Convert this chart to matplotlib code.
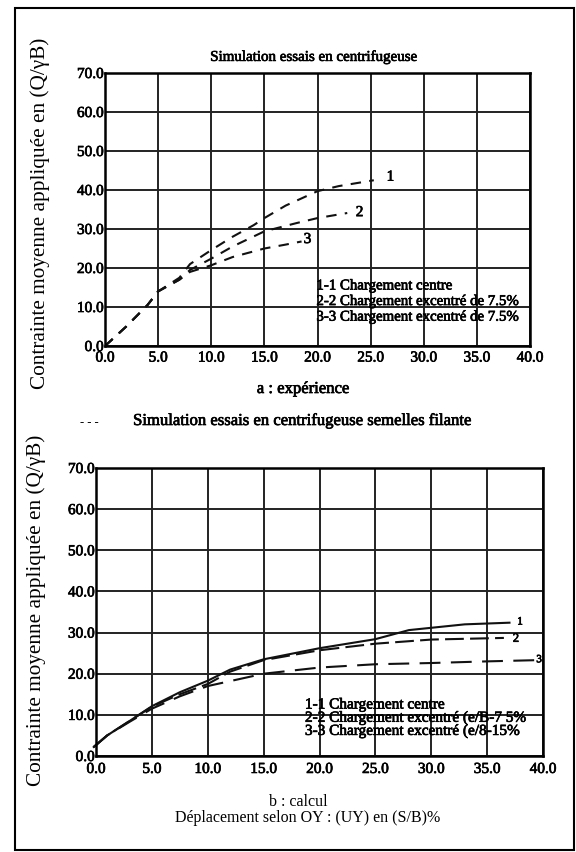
import numpy as np
import matplotlib.pyplot as plt
from matplotlib.patches import Rectangle
import matplotlib.patheffects as pe

plt.rcParams['font.family'] = ['Liberation Serif', 'DejaVu Serif']

# a : experience (centrifuge tests)
exp_x1 = [0, 2, 4, 5, 7, 8, 10, 12, 14, 15, 17, 20, 22, 25.3]
exp_y1 = [0, 5, 10.5, 14, 17.5, 21, 24.6, 28, 31, 32.8, 36, 39.7, 41, 42.5]
exp_x2 = [0, 2, 4, 5, 7, 8, 10, 12, 15, 18, 20, 22.8]
exp_y2 = [0, 5, 10.5, 14, 17, 19.5, 22.4, 25.5, 29.4, 31.5, 32.8, 34.1]
exp_x3 = [0, 2, 4, 5, 7, 8, 10, 12, 15, 17, 18.5]
exp_y3 = [0, 5, 10.5, 14, 17, 19, 20.7, 22.8, 25, 26, 26.8]

# b : calcul
calc_x1 = [-0.2, 1, 3, 5, 7.5, 10, 12, 15, 20, 25, 28, 33, 37]
calc_y1 = [2.2, 5, 8.5, 12.1, 15.5, 18.3, 21, 23.5, 26.2, 28.4, 30.6, 32, 32.4]
calc_x2 = [-0.2, 1, 3, 5, 7.5, 10, 12, 15, 20, 25, 30, 36.5]
calc_y2 = [2.2, 5, 8.5, 12, 15, 17.5, 20.5, 23.3, 25.7, 27.3, 28.3, 28.7]
calc_x3 = [-0.2, 1, 3, 5, 7.5, 10, 15, 20, 25, 30, 35, 39.5]
calc_y3 = [2.2, 5, 8.3, 11.5, 14.5, 17, 20, 21.5, 22.3, 22.6, 23, 23.3]

x_ticks = np.arange(0, 45, 5)
y_ticks = np.arange(0, 80, 10)

exp_legend = ["1-1 Chargement centre",
              "2-2 Chargement excentré de 7.5%",
              "3-3 Chargement excentré de 7.5%"]
calc_legend = ["1-1 Chargement centre",
               "2-2 Chargement excentré (e/B-7 5%",
               "3-3 Chargement excentré (e/8-15%"]

ylabel = "Contrainte moyenne appliquée en (Q/γB)"

# scanned look: slightly heavier text
ink = [pe.withStroke(linewidth=0.5, foreground='black')]

fig = plt.figure(figsize=(5.76, 8.52), dpi=100)
fig.patches.append(Rectangle((15 / 576, 0.002), 559 / 576, 1 - 8 / 852 - 0.002,
                             transform=fig.transFigure, fill=False,
                             edgecolor='black', linewidth=1.5))


def setup(ax, pad):
    ax.set_xlim(0, 40)
    ax.set_ylim(0, 70)
    ax.set_xticks(x_ticks)
    ax.set_yticks(y_ticks)
    ax.set_xticklabels(['%.1f' % v for v in x_ticks])
    ax.set_yticklabels(['%.1f' % v for v in y_ticks])
    ax.tick_params(length=0, labelsize=11)
    ax.tick_params(axis='x', pad=pad)
    ax.tick_params(axis='y', pad=1)
    for lab in ax.get_xticklabels() + ax.get_yticklabels():
        lab.set_path_effects(ink)
    ax.grid(True, color='#222222', linewidth=1.4)
    for s in ax.spines.values():
        s.set_linewidth(1.8)


# top chart
ax1 = fig.add_axes([105 / 576, 1 - 346 / 852, 425 / 576, 273 / 852])
setup(ax1, 4)
ax1.plot(exp_x1, exp_y1, color='#111111', lw=1.5, dashes=(5, 4))
ax1.plot(exp_x2, exp_y2, color='#111111', lw=1.5, dashes=(5, 4))
ax1.plot(exp_x3, exp_y3, color='#111111', lw=1.5, dashes=(5, 4))
ax1.text(26.5, 43.3, '1', fontsize=11, va='center', path_effects=ink)
ax1.text(23.6, 34.2, '2', fontsize=11, va='center', path_effects=ink)
ax1.text(18.7, 27.3, '3', fontsize=11, va='center', path_effects=ink)
for i, t in enumerate(exp_legend):
    ax1.text(19.9, 15.4 - 4 * i, t, fontsize=10.7, va='center', path_effects=ink)
fig.text(314 / 576, 1 - 57 / 852, "Simulation essais en centrifugeuse",
         fontsize=10.8, ha='center', va='center', path_effects=ink)
fig.text(303 / 576, 1 - 389 / 852, "a : expérience", fontsize=12,
         ha='center', va='center', path_effects=ink)
fig.text(40 / 576, 1 - 213 / 852, ylabel, rotation=90, fontsize=15.3,
         ha='center', va='center')

# bottom chart
ax2 = fig.add_axes([96 / 576, 1 - 756 / 852, 447 / 576, 288 / 852])
setup(ax2, 5)
ax2.plot(calc_x1, calc_y1, color='#111111', lw=1.5, clip_on=False)
ax2.plot(calc_x2, calc_y2, color='#111111', lw=1.5, dashes=(9, 3), clip_on=False)
ax2.plot(calc_x3, calc_y3, color='#111111', lw=1.5, dashes=(10, 5), clip_on=False)
ax2.text(37.7, 32.6, '1', fontsize=8, va='center', path_effects=ink)
ax2.text(37.3, 28.5, '2', fontsize=9, va='center', path_effects=ink)
ax2.text(39.4, 23.4, '3', fontsize=8, va='center', path_effects=ink)
for i, t in enumerate(calc_legend):
    ax2.text(18.7, 12.4 - 3.2 * i, t, fontsize=11, va='center', path_effects=ink)
fig.text(302 / 576, 1 - 421 / 852, "Simulation essais en centrifugeuse semelles filante",
         fontsize=12, ha='center', va='center', path_effects=ink)
fig.text(89 / 576, 1 - 423 / 852, "- - -", fontsize=9, ha='center', va='center')
fig.text(298 / 576, 1 - 802 / 852, "b : calcul", fontsize=11.5, ha='center', va='center')
fig.text(308 / 576, 1 - 818 / 852, "Déplacement selon OY : (UY) en (S/B)%",
         fontsize=11.5, ha='center', va='center')
fig.text(36 / 576, 1 - 610 / 852, ylabel, rotation=90, fontsize=15.3,
         ha='center', va='center')

fig.savefig('out.png', dpi=100)
